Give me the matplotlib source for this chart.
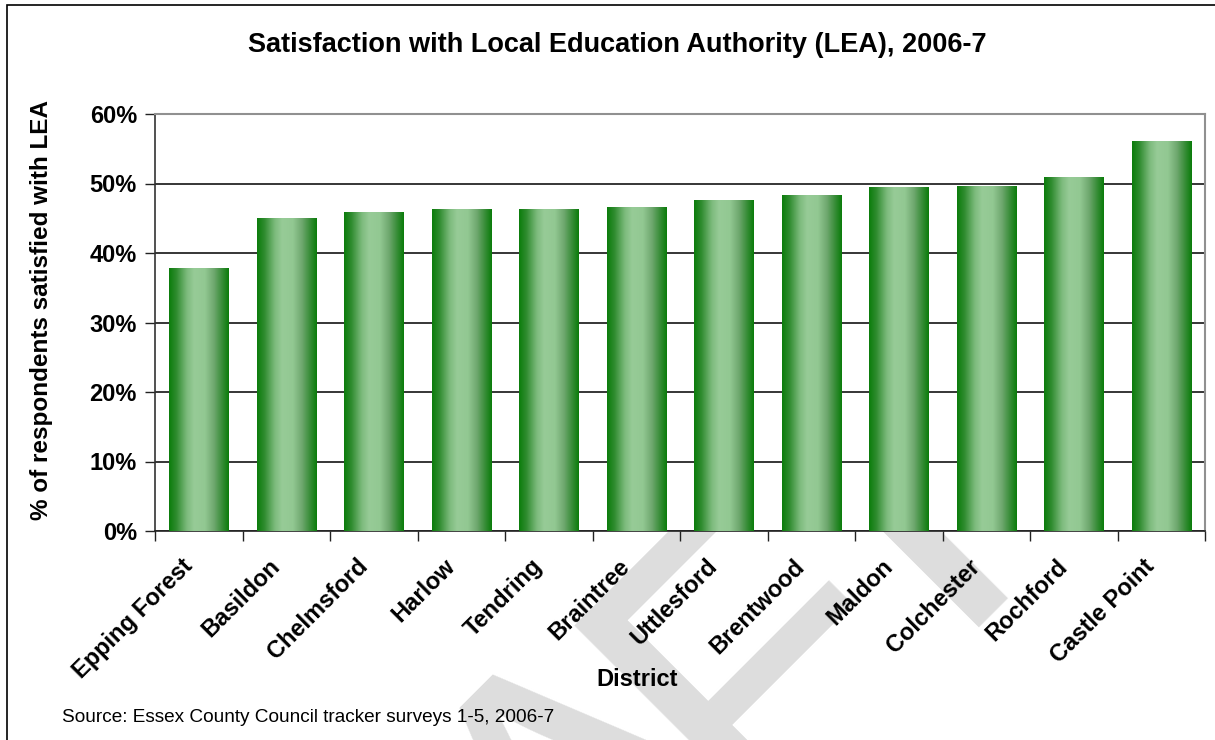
import numpy as np
import matplotlib
matplotlib.use('Agg')
import matplotlib.pyplot as plt
from matplotlib.colors import LinearSegmentedColormap
from matplotlib.patches import Rectangle
from matplotlib.transforms import ScaledTranslation

plt.rcParams['font.family'] = ['Liberation Sans', 'DejaVu Sans']

# data
districts = ['Epping Forest', 'Basildon', 'Chelmsford', 'Harlow', 'Tendring', 'Braintree',
             'Uttlesford', 'Brentwood', 'Maldon', 'Colchester', 'Rochford', 'Castle Point']
satisfied = [37.7, 44.9, 45.8, 46.2, 46.3, 46.5, 47.6, 48.3, 49.4, 49.6, 50.8, 56.0]
yticks = [0, 10, 20, 30, 40, 50, 60]

W, H = 1215, 740
fig = plt.figure(figsize=(W / 100, H / 100), dpi=100)

# big grey "DRAFT" watermark behind the chart (only A, F, T reach into the picture).
# letters sit on a 45 deg baseline: x+y = 1597 px, each letter origin given by x-y
wm_sum = 1597
for ch, diff in [('A', -426), ('F', -87), ('T', 194)]:
    px, py = (wm_sum + diff) / 2, (wm_sum - diff) / 2
    fig.text(px / W, 1 - py / H, ch, fontsize=320, color='#dddddd',
             rotation=45, rotation_mode='anchor', ha='left', va='baseline', zorder=-5)

# outer border of the chart area (left + top edges visible)
fig.patches.append(Rectangle((7 / W, -0.1), 1.2, (H - 5) / H + 0.1, transform=fig.transFigure,
                             fill=False, edgecolor='black', lw=1.2, zorder=10))

ax = fig.add_axes([155 / W, 209 / H, 1050 / W, 417 / H])
ax.set_facecolor('white')

x = np.arange(len(districts))
bars = ax.bar(x, satisfied, width=0.68, color='none', edgecolor='none', zorder=3)

# horizontal gradient fill for every bar
green = LinearSegmentedColormap.from_list('grn', [
    (0.0, '#0b7d0b'), (0.12, '#2e8b2e'), (0.3, '#7dbb7d'), (0.42, '#97cb97'),
    (0.6, '#92c892'), (0.75, '#6fa86f'), (0.88, '#3a8e3a'), (1.0, '#0a7c0a')])
grad = np.linspace(0, 1, 256).reshape(1, -1)
for b in bars:
    x0, w, h = b.get_x(), b.get_width(), b.get_height()
    ax.imshow(grad, cmap=green, aspect='auto', extent=[x0, x0 + w, 0, h],
              zorder=3, interpolation='bilinear')

ax.set_xlim(-0.5, len(districts) - 0.5)
ax.set_ylim(0, 60)
ax.set_yticks(yticks)
ax.set_yticklabels([f'{t}%' for t in yticks], fontsize=17, fontweight='bold')
ax.yaxis.grid(True, color='black', lw=1.1, zorder=1)
ax.set_axisbelow(True)

ax.set_xticks(x)
ax.set_xticklabels(districts, rotation=45, ha='right', rotation_mode='anchor',
                   fontsize=17, fontweight='bold')
ax.tick_params(axis='x', which='major', length=0, pad=17)
for lab in ax.get_xticklabels():
    lab.set_transform(lab.get_transform() + ScaledTranslation(-18 / 100, 0, fig.dpi_scale_trans))
ax.set_xticks(np.arange(-0.5, len(districts)), minor=True)
ax.tick_params(axis='x', which='minor', length=7, width=1, color='#222222')
ax.tick_params(axis='y', length=7, width=1, color='#222222', pad=6)

for s in ['top', 'right']:
    ax.spines[s].set_color('#909090')
    ax.spines[s].set_linewidth(1.5)
ax.spines['left'].set_color('#333333')
ax.spines['bottom'].set_color('#222222')
ax.spines['left'].set_linewidth(1.2)
ax.spines['bottom'].set_linewidth(1.2)

ax.set_ylabel('% of respondents satisfied with LEA', fontsize=17.5, fontweight='bold', va='center')
ax.yaxis.set_label_coords((42 - 155) / 1050, (531 - 310) / 417)
ax.set_xlabel('District', fontsize=17, fontweight='bold', va='center')
ax.xaxis.set_label_coords((637 - 155) / 1050, (531 - 680) / 417)

fig.text(617 / W, 1 - 45 / H, 'Satisfaction with Local Education Authority (LEA), 2006-7',
         fontsize=19.5, fontweight='bold', ha='center', va='center')
fig.text(62 / W, 1 - 718 / H, 'Source: Essex County Council tracker surveys 1-5, 2006-7',
         fontsize=13.7, ha='left', va='center')

fig.savefig('out.png', dpi=100, facecolor='white')
